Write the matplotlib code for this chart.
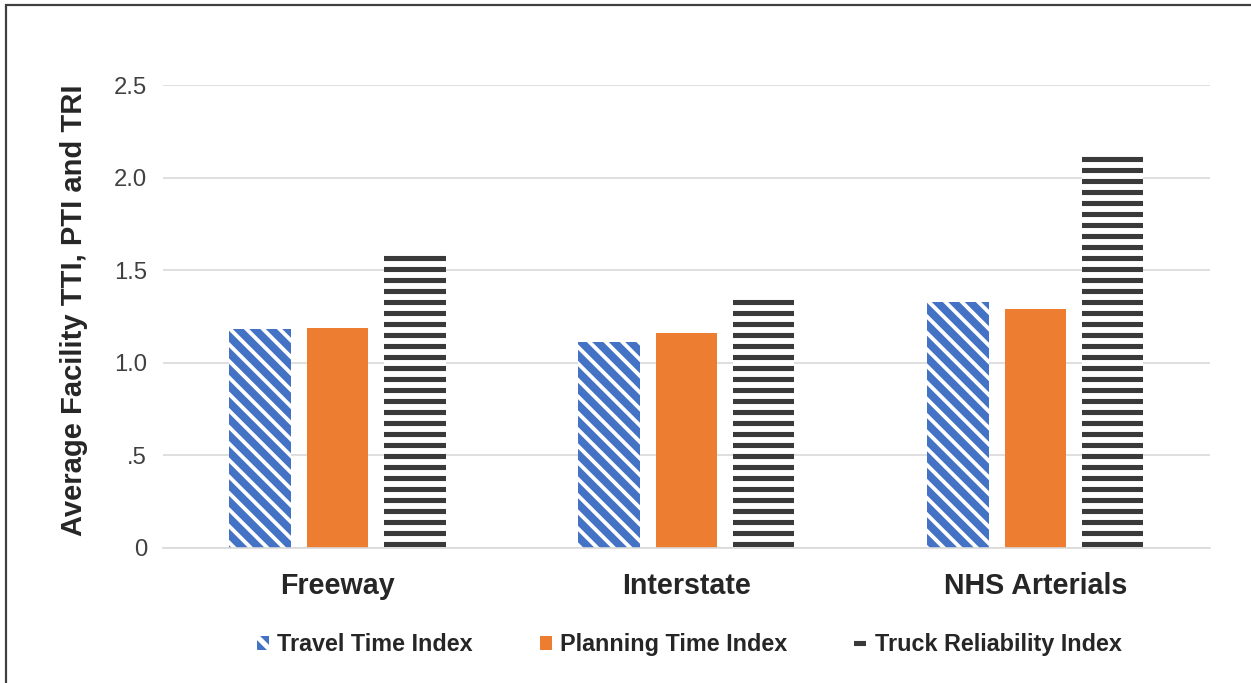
import matplotlib
matplotlib.use("Agg")
import matplotlib.pyplot as plt
from matplotlib.patches import Rectangle
import numpy as np

categories = ["Freeway", "Interstate", "NHS Arterials"]
series_names = ["Travel Time Index", "Planning Time Index", "Truck Reliability Index"]
tti = [1.18, 1.11, 1.33]
pti = [1.19, 1.16, 1.29]
tri = [1.60, 1.36, 2.13]
ytick_values = [0, 0.5, 1.0, 1.5, 2.0, 2.5]
ytick_labels = ["0", ".5", "1.0", "1.5", "2.0", "2.5"]

DPI = 198
plt.rcParams["font.family"] = ["Liberation Sans", "DejaVu Sans"]

fig = plt.figure(figsize=(1251 / DPI, 683 / DPI), dpi=DPI)
ax = fig.add_axes([0.1303, 0.1977, 0.9672 - 0.1303, 0.8755 - 0.1977])

x = np.arange(len(categories))
width = 0.175
offset = 0.222

# thinner white diagonals on the blue bars
plt.rcParams["hatch.linewidth"] = 1.4
b1 = ax.bar(x - offset, tti, width, color="#4472C4", edgecolor="white",
            linewidth=0, hatch="\\\\\\\\", label=series_names[0])
b2 = ax.bar(x, pti, width, color="#ED7D31", linewidth=0,
            label=series_names[1])
plt.rcParams["hatch.linewidth"] = 1.85
b3 = ax.bar(x + offset, tri, width, color="white", edgecolor="#3A3A3A",
            linewidth=0, hatch="---", label=series_names[2])

ax.set_xlim(-0.5, 2.5)
ax.set_ylim(0, 2.5)
ax.set_yticks(ytick_values)
ax.set_yticklabels(ytick_labels, fontsize=8.7, color="#404040")
ax.set_xticks(x)
ax.set_xticklabels(categories, fontsize=10.4, fontweight="bold",
                   color="#262626")
ax.tick_params(axis="both", length=0)
ax.tick_params(axis="y", pad=5.8)
ax.tick_params(axis="x", pad=8.8)

ax.set_axisbelow(True)
ax.yaxis.grid(True, color="#D9D9D9", linewidth=0.6)
for side in ["top", "right", "left"]:
    ax.spines[side].set_visible(False)
ax.spines["bottom"].set_color("#D9D9D9")
ax.spines["bottom"].set_linewidth(0.6)

ax.set_ylabel("Average Facility TTI, PTI and TRI", fontsize=10.6,
              fontweight="bold", color="#262626")
ax.yaxis.set_label_coords(-0.0715, 0.513)

fig.legend(handles=[b1, b2, b3], loc="center", ncol=3,
           bbox_to_anchor=(0.551, 0.056), frameon=False,
           prop={"size": 8.5, "weight": "bold"},
           handlelength=0.51, handleheight=0.51, handletextpad=0.38,
           columnspacing=2.85, labelcolor="#262626")

# outer frame around the chart area
fig.add_artist(Rectangle((6 / 1251, -0.1), 1.0, 1.1 - 5 / 683,
                         transform=fig.transFigure, fill=False,
                         edgecolor="#404040", linewidth=0.8))

fig.savefig("out.png", dpi=DPI, facecolor="white")
